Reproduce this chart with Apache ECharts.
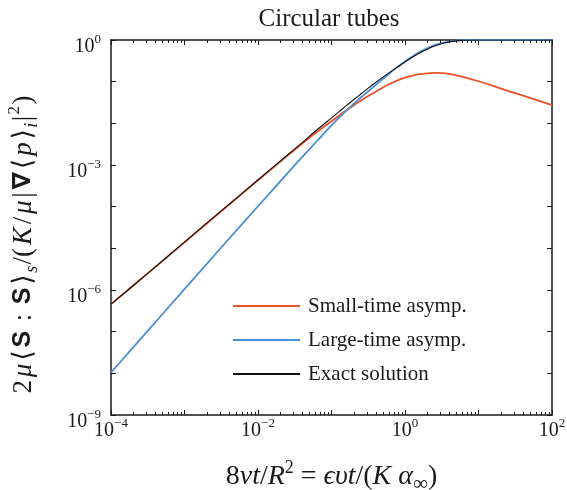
<!DOCTYPE html>
<html>
<head>
<meta charset="utf-8">
<script src="https://cdn.jsdelivr.net/npm/echarts@6/dist/echarts.min.js"></script>
<style>
html,body{margin:0;padding:0;background:#fff;}
#chart{width:567px;height:490px;}
</style>
</head>
<body>
<div id="chart"></div>
<script>
// ---- data ----
const tau = [1e-4, 3.16e-4, 1e-3, 3.16e-3, 1e-2, 0.0251, 0.0398, 0.0631, 0.1, 0.126, 0.158, 0.2, 0.251, 0.316, 0.398, 0.501, 0.631, 0.794, 1, 1.26, 1.58, 2.0, 2.51, 3.16, 3.98, 5.01, 6.31, 10, 15.8, 25.1, 39.8, 63.1, 100];
const smallTime = [4.57e-7, 2.51e-6, 1.396e-5, 7.76e-5, 4.27e-4, 1.66e-3, 3.236e-3, 6.166e-3, 1.122e-2, 1.514e-2, 2.042e-2, 2.692e-2, 3.508e-2, 4.519e-2, 5.754e-2, 7.244e-2, 8.913e-2, 0.1072, 0.1245, 0.1396, 0.1514, 0.1585, 0.1622, 0.1603, 0.1531, 0.1413, 0.1288, 0.1023, 0.0794, 0.0603, 0.0468, 0.0359, 0.0275];
const largeTime = [1.047e-8, 1.047e-7, 1.047e-6, 1.047e-5, 1.023e-4, 6.31e-4, 1.549e-3, 3.715e-3, 8.91e-3, 1.349e-2, 1.995e-2, 2.917e-2, 4.169e-2, 5.888e-2, 8.318e-2, 0.1175, 0.1641, 0.2265, 0.3055, 0.4027, 0.5129, 0.631, 0.7447, 0.8414, 0.9162, 0.9638, 0.9886, 1.0, 1.0, 1.0, 1.0, 1.0, 1.0];
const exact = [4.57e-7, 2.51e-6, 1.413e-5, 7.94e-5, 4.42e-4, 1.738e-3, 3.43e-3, 6.918e-3, 1.349e-2, 1.884e-2, 2.630e-2, 3.673e-2, 5.070e-2, 6.998e-2, 9.550e-2, 0.1288, 0.1718, 0.2265, 0.2972, 0.3846, 0.4875, 0.5998, 0.7145, 0.8147, 0.8954, 0.9506, 0.9899, 0.9986, 1.0, 1.0, 1.0, 1.0, 1.0];
const seriesNames = ['Small-time asymp.', 'Large-time asymp.', 'Exact solution'];
const xLabelExps = [-4, -2, 0, 2];
const yLabelExps = [0, -3, -6, -9];
const xMinorTicks = [];
[1e-4, 1e-3, 1e-2, 1e-1, 1, 10].forEach(d => { for (let k = 2; k <= 9; k++) xMinorTicks.push(+(k * d).toPrecision(3)); });

const X_MIN = 1e-4, X_MAX = 100, Y_MIN = 1e-9, Y_MAX = 1;
const SERIF = "'Liberation Serif','Times New Roman','DejaVu Serif',serif";
const SANS = "'Liberation Sans',Arial,'DejaVu Sans',sans-serif";
const INK = '#1a1a1a';

function expLabel(v, list) {
  const e = Math.round(Math.log10(v));
  if (!list.includes(e)) return '';
  return '{b|10}{s|' + (e < 0 ? '\u2212' + (-e) : e) + '}';
}
const tickRich = {
  b: { fontFamily: SERIF, fontSize: 20, color: INK, padding: [4, 0, 0, 0], verticalAlign: 'top' },
  s: { fontFamily: SERIF, fontSize: 13, color: INK, verticalAlign: 'top' }
};
function logAxis(extra) {
  return Object.assign({
    type: 'log', logBase: 10, interval: 1, gridIndex: 0,
    axisLine: { show: true, lineStyle: { color: INK, width: 1.5 } },
    axisTick: { show: true, inside: true, length: 5, lineStyle: { color: INK, width: 1 } },
    splitLine: { show: false },
    minorTick: { show: false },
    axisLabel: { show: false }
  }, extra);
}

const chart = echarts.init(document.getElementById('chart'), null, { renderer: 'canvas' });
chart.setOption({
  animation: false,
  backgroundColor: '#fff',
  title: {
    text: 'Circular tubes', left: 324, textAlign: 'center', top: 2,
    textStyle: { fontFamily: SERIF, fontWeight: 'normal', fontSize: 25, color: INK }
  },
  grid: { left: 111, top: 40, width: 441, height: 375, containLabel: false, outerBoundsMode: 'none' },
  legend: {
    data: seriesNames, orient: 'vertical', left: 227, top: 290,
    itemWidth: 67, itemHeight: 14, itemGap: 12,
    itemStyle: { opacity: 0 },
    textStyle: { fontFamily: SERIF, fontSize: 21, color: INK, lineHeight: 22, padding: [0, 0, 0, 3] }
  },
  xAxis: [
    logAxis({
      min: X_MIN, max: X_MAX, position: 'bottom',
      axisLabel: { show: true, margin: 2, formatter: v => expLabel(v, xLabelExps), rich: tickRich, hideOverlap: false, showMinLabel: true, showMaxLabel: true },
      name: '{n|8}{i|\u03BDt}{n|/}{i|R}{sup|2}{n| = }{i|\u03F5\u03C5t}{n|/(}{i|K \u03B1}{sub|\u221E}{n|)}',
      nameLocation: 'middle', nameGap: 44,
      nameTextStyle: {
        rich: {
          n: { fontFamily: SERIF, fontSize: 28, color: INK, padding: [4, 0, 4, 0], verticalAlign: 'middle' },
          i: { fontFamily: SERIF, fontStyle: 'italic', fontSize: 28, color: INK, padding: [4, 0, 4, 0], verticalAlign: 'middle' },
          sup: { fontFamily: SERIF, fontSize: 18, color: INK, verticalAlign: 'top' },
          sub: { fontFamily: SERIF, fontSize: 21, color: INK, verticalAlign: 'bottom' }
        }
      }
    }),
    logAxis({ min: X_MIN, max: X_MAX, position: 'top' })
  ],
  yAxis: [
    logAxis({
      min: Y_MIN, max: Y_MAX, position: 'left',
      axisLabel: { show: true, margin: 10, formatter: v => expLabel(v, yLabelExps), rich: tickRich, hideOverlap: false, showMinLabel: true, showMaxLabel: true, padding: [10, 0, 0, 0] },
      name: '{n|2}{i|\u03BC}{n|\u27E8}{bs|S}{n| : }{bs|S}{n|\u27E9}{sub|s}{n|/(}{i|K}{n|/}{i|\u03BC}{n||}{bs|\u2207}{n|\u27E8}{i|p}{n|\u27E9}{sub|i}{n||}{sup|2}{n|)}',
      nameLocation: 'middle', nameRotate: 90, nameGap: 70,
      nameTextStyle: {
        padding: [0, 34, 0, 0],
        rich: {
          n: { fontFamily: SERIF, fontSize: 27, color: INK, padding: [4, 1.4, 4, 1.4], verticalAlign: 'middle' },
          i: { fontFamily: SERIF, fontStyle: 'italic', fontSize: 27, color: INK, padding: [4, 1.4, 4, 1.4], verticalAlign: 'middle' },
          bs: { fontFamily: SANS, fontWeight: 'bold', fontSize: 25, color: INK, padding: [4, 1.4, 4, 1.4], verticalAlign: 'middle' },
          sup: { fontFamily: SERIF, fontSize: 17, color: INK, verticalAlign: 'top' },
          sub: { fontFamily: SERIF, fontStyle: 'italic', fontSize: 18, color: INK, verticalAlign: 'bottom' }
        }
      }
    }),
    logAxis({ min: Y_MIN, max: Y_MAX, position: 'right' })
  ],
  series: [
    {
      name: seriesNames[0], type: 'line', xAxisIndex: 0, yAxisIndex: 0,
      data: tau.map((t, i) => [t, smallTime[i]]),
      symbol: 'none', smooth: 0.3, lineStyle: { color: '#E8532B', width: 1.8 }, itemStyle: { color: '#E8532B' }
    },
    {
      name: seriesNames[1], type: 'line', xAxisIndex: 0, yAxisIndex: 0,
      data: tau.map((t, i) => [t, largeTime[i]]),
      symbol: 'none', smooth: 0.3, lineStyle: { color: '#4A8ED3', width: 1.8 }, itemStyle: { color: '#4A8ED3' }
    },
    {
      name: seriesNames[2], type: 'line', xAxisIndex: 0, yAxisIndex: 0,
      data: tau.map((t, i) => [t, exact[i]]),
      symbol: 'none', smooth: 0.3, lineStyle: { color: '#111111', width: 1.1 }, itemStyle: { color: '#111111' }
    },
    {
      type: 'custom', xAxisIndex: 0, yAxisIndex: 0, silent: true, clip: false, z: 5,
      data: xMinorTicks.map(v => [v, Y_MAX]),
      renderItem: (params, api) => {
        const v = api.value(0);
        const top = api.coord([v, Y_MAX]);
        const bot = api.coord([v, Y_MIN]);
        const x = Math.round(top[0]) + 0.5;
        return {
          type: 'group', children: [
            { type: 'line', shape: { x1: x, y1: top[1], x2: x, y2: top[1] + 3 }, style: { stroke: INK, lineWidth: 1 } },
            { type: 'line', shape: { x1: x, y1: bot[1], x2: x, y2: bot[1] - 3 }, style: { stroke: INK, lineWidth: 1 } }
          ]
        };
      }
    }
  ]
});
</script>
</body>
</html>
